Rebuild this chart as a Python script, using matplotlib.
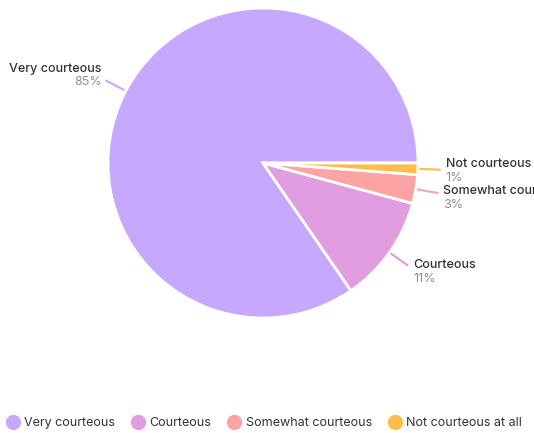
import numpy as np
import matplotlib.pyplot as plt
from matplotlib.lines import Line2D

plt.rcParams['font.family'] = ['Inter', 'DejaVu Sans']

# data
labels = ["Very courteous", "Courteous", "Somewhat courteous", "Not courteous at all"]
short_labels = ["Very courteous", "Courteous", "Somewhat courteous", "Not courteous"]
values = [84.6, 11.2, 3.0, 1.2]
pct_text = ["85%", "11%", "3%", "1%"]
colors = ["#c6a9fe", "#e09de0", "#fca3a3", "#ffbe4a"]

W, H = 534, 433
fig = plt.figure(figsize=(W / 100, H / 100), dpi=100)
ax = fig.add_axes([0, 0, 1, 1])

cx, cy, r = 263, H - 163, 155

total = sum(values)
start = 0.0
mids = []
for v in values:
    span = 360.0 * v / total
    mids.append(start + span / 2)
    start += span

wedges, _ = ax.pie(values, colors=colors, startangle=0, center=(cx, cy), radius=r,
                   wedgeprops=dict(edgecolor="white", linewidth=2), frame=True)
ax.set_xlim(0, W)
ax.set_ylim(0, H)
ax.set_aspect("equal")
ax.axis("off")

# small nudges (pixels, downward) so labels don't collide
nudge = [3, 5, 4, 0]

for i, ang in enumerate(mids):
    a = np.deg2rad(ang)
    x0, y0 = cx + (r - 20) * np.cos(a), cy + (r - 20) * np.sin(a)
    x1, y1 = cx + (r + 23) * np.cos(a), cy + (r + 23) * np.sin(a)
    ax.plot([x0, x1], [y0, y1], color=colors[i], lw=1.5, zorder=0,
            solid_capstyle="butt")
    y1 -= nudge[i]
    if np.cos(a) >= 0:
        tx, ha = x1 + 5, "left"
        ny, py = y1 + 6, y1 - 8
    else:
        tx, ha = x1 - 4, "right"
        ny, py = y1 + 14, y1 + 1
    ax.text(tx, ny, short_labels[i], ha=ha, va="center", fontsize=9,
            color="#333333", fontweight="medium")
    ax.text(tx, py, pct_text[i], ha=ha, va="center", fontsize=9, color="#8a8fa3")

handles = [Line2D([], [], marker="o", linestyle="none", markersize=10,
                  markerfacecolor=c, markeredgecolor=c) for c in colors]
fig.legend(handles, labels, loc="center", bbox_to_anchor=(0.495, 10 / H), ncol=4,
           frameon=False, fontsize=9, handletextpad=0.4, columnspacing=1.35,
           handlelength=1.0, labelcolor="#333333", borderpad=0, borderaxespad=0)

fig.savefig("out.png", dpi=100)
